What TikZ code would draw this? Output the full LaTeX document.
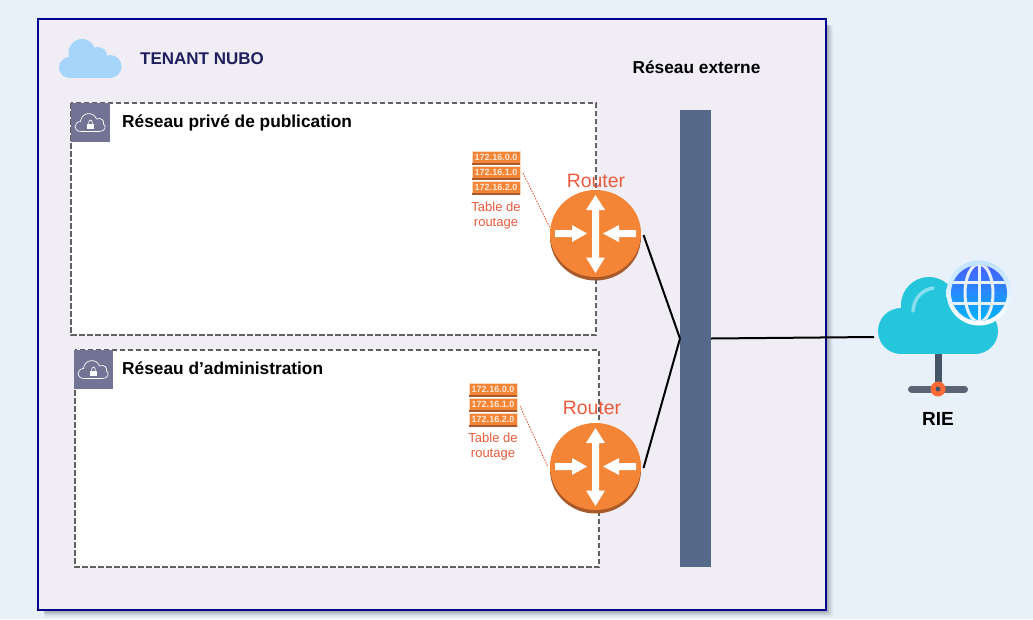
\documentclass[tikz,border=0pt]{standalone}
\usepackage{fontspec}
\setmainfont{Liberation Sans}
\usetikzlibrary{shapes.geometric,arrows.meta}
\definecolor{pagebg}{HTML}{E8F1FA}
\definecolor{tenantbg}{HTML}{F0EEF4}
\definecolor{tenantline}{HTML}{00008F}
\definecolor{tenanttxt}{HTML}{1F1F5E}
\definecolor{lockbg}{HTML}{737396}
\definecolor{dashc}{HTML}{606060}
\definecolor{busc}{HTML}{54698A}
\definecolor{rorange}{HTML}{F58536}
\definecolor{rdark}{HTML}{A85A2A}
\definecolor{rowedge}{HTML}{FBD9BE}
\definecolor{rowtxt}{HTML}{FDE8D8}
\definecolor{rtxt}{HTML}{EA5A3C}
\definecolor{cloudlight}{HTML}{A5D5FA}
\definecolor{cloudteal}{HTML}{25C6DC}
\definecolor{cloudshine}{HTML}{86DFEC}
\definecolor{stemc}{HTML}{47556B}
\definecolor{basec}{HTML}{5A6474}
\definecolor{hubc}{HTML}{FF6B35}
\definecolor{globetop}{HTML}{4A60FF}
\definecolor{globebot}{HTML}{00B6FF}
\definecolor{ringtop}{HTML}{BFE3FF}
\tikzset{
  x=1pt,y=-1pt,
  netbox/.style={draw=dashc,dash pattern=on 5.5pt off 2.5pt,line width=1.7pt,fill=white},
  locksq/.style={fill=lockbg,draw=none},
  title/.style={anchor=west,inner sep=0pt,font=\fontsize{17.3}{20}\selectfont\bfseries},
  routeur/.style={ellipse,fill=rorange,draw=none,minimum width=91pt,minimum height=87pt,inner sep=0pt,outer sep=2.5pt},
  routerlbl/.style={text=rtxt,inner sep=0pt,font=\fontsize{19.4}{22}\selectfont},
  tablelbl/.style={text=rtxt,inner sep=0pt,align=center,font=\fontsize{13}{15}\selectfont},
  rowlbl/.style={fill=rorange,text=rowtxt,inner sep=0pt,minimum width=47pt,minimum height=11pt,font=\fontsize{9}{9}\selectfont\bfseries},
  link/.style={draw=black,line width=2pt},
  dotlink/.style={draw=rtxt,line width=0.9pt,dash pattern=on 1.5pt off 1.3pt},
  arrowfill/.style={fill=white,draw=none},
  pics/routersym/.style={code={
    \fill[rdark] (0,3.5) ellipse [x radius=45.5,y radius=43.5];
    \node[routeur] (#1) at (0,0) {};
    \fill[arrowfill] (0,-38.5)--(9.5,-23.5)--(3.5,-23.5)--(3.5,24)--(9.5,24)--(0,39.5)--(-9.5,24)--(-3.5,24)--(-3.5,-23.5)--(-9.5,-23.5)--cycle;
    \fill[arrowfill] (-40.5,-3.5)--(-23.5,-3.5)--(-23.5,-8.5)--(-8.5,0)--(-23.5,8.5)--(-23.5,3.5)--(-40.5,3.5)--cycle;
    \fill[arrowfill] (40.5,-3.5)--(23.5,-3.5)--(23.5,-8.5)--(7.5,0)--(23.5,8.5)--(23.5,3.5)--(40.5,3.5)--cycle;
  }},
  pics/rowset/.style={code={
    \foreach \yy/\tt in {0/172.16.0.0,15/172.16.1.0,30/172.16.2.0}{
      \fill[rowedge] (-24.5,\yy-7) rectangle (24.5,\yy+7);
      \fill[rdark] (-24,\yy+5) rectangle (24,\yy+6.5);
      \node[rowlbl] at (0,\yy-.7) {\tt};
    }
  }},
  pics/lockcloud/.style={code={
    \draw[white,line width=.7pt] (-9,9.5) .. controls (-18,9.5) and (-17,0) .. (-10,-0.5)
      .. controls (-9,-10) and (3,-11) .. (6,-3)
      .. controls (11,-5) and (14,-1) .. (13,2)
      .. controls (16,4) and (15,9.5) .. (9,9.5) -- cycle;
    \fill[white] (-3.5,1.5) rectangle (3.5,7);
    \draw[white,line width=.7pt] (-2,1.5) .. controls (-2,-3) and (2,-3) .. (2,1.5);
  }},
}
\begin{document}
\begin{tikzpicture}
\fill[pagebg] (0,0) rectangle (1033,619);
\useasboundingbox (0,0) rectangle (1033,619);
% soft shadow of the tenant box
\foreach \d/\o in {7/.04,5.5/.06,4/.08,2.5/.11}{
  \fill[black,opacity=\o,rounded corners=2pt] (44,25) rectangle (826+\d,610+\d);
}
\draw[fill=tenantbg,draw=tenantline,line width=1.8pt] (38,19) rectangle (826,610);
% tenant cloud
\fill[cloudlight] (69.5,67.5) circle (10.5);
\fill[cloudlight] (82,52.5) circle (13.5);
\fill[cloudlight] (98,56) circle (9);
\fill[cloudlight] (110,66.5) circle (11.5);
\fill[cloudlight] (70,60) rectangle (110,78);
\node[title,text=tenanttxt,font=\fontsize{17}{20}\selectfont\bfseries] (tenant) at (140,59) {TENANT NUBO};
\node[title,anchor=center] (ext) at (696.5,67.5) {Réseau externe};
% private networks
\draw[netbox] (71,103) rectangle (596,335);
\fill[locksq] (71,103) rectangle (110,142);
\pic at (90.5,122) {lockcloud};
\node[title] (pub) at (122,122.5) {Réseau privé de publication};
\draw[netbox] (75,350) rectangle (599,567);
\fill[locksq] (74,350) rectangle (113,389);
\pic at (93.5,369) {lockcloud};
\node[title] (adm) at (122,368) {Réseau d’administration};
% bus
\node[fill=busc,draw=none,minimum width=31pt,minimum height=457pt,inner sep=0pt,outer sep=0pt] (bus) at (695.5,338.5) {};
% routers
\pic at (595.5,233.5) {routersym=r1};
\pic at (595.5,466.5) {routersym=r2};
\node[routerlbl] (r1l) at (596,180.5) {Router};
\node[routerlbl] (r2l) at (592,407.5) {Router};
% tables
\pic at (496,158) {rowset};
\pic at (493,390) {rowset};
\node[tablelbl] (t1) at (496,215.5) {Table de\\routage};
\node[tablelbl] (t2) at (493,447) {Table de\\routage};
\coordinate (t1a) at (523,173);
\coordinate (t2a) at (520,406);
\coordinate (r1d) at (550,228);
\coordinate (r2d) at (548,467);
\draw[dotlink] (t1a) -- (r1d);
\draw[dotlink] (t2a) -- (r2d);
% RIE cloud
\fill[cloudteal] (901,331) circle (23);
\fill[cloudteal] (929,305) circle (28);
\fill[cloudteal] (975,331) circle (23);
\fill[cloudteal] (901,320) rectangle (975,354);
\fill[cloudteal] (929,300) rectangle (965,330);
\draw[line width=3.5pt,line cap=round,draw=cloudshine] (913,311) .. controls (914,298) and (922,290) .. (933,288);
\coordinate (rie) at (874,337);
\draw[line width=7pt,draw=stemc] (938,354) -- (938,389);
\draw[line width=7pt,line cap=round,draw=basec] (911.5,389) -- (964.5,389);
\fill[hubc] (938,389) circle (7.5);
\fill[stemc] (938,389) circle (2.5);
% globe
\shade[top color=ringtop,bottom color=white] (979,293) circle (32.5);
\begin{scope}
\clip (979,293) circle (28);
\shade[top color=globetop,bottom color=globebot] (950,265) rectangle (1008,321);
\draw[pagebg,line width=3pt] (945,282) -- (1013,282) (945,303) -- (1013,303) (979,260) -- (979,325);
\draw[pagebg,line width=3pt] (979,293) ellipse [x radius=14,y radius=29];
\end{scope}
\node[inner sep=0pt,font=\fontsize{19}{22}\selectfont\bfseries] (rielbl) at (938,419) {RIE};
% connectors
\draw[link] ([yshift=-1.5pt]r1.east) -- (bus.west);
\draw[link] ([yshift=-1.5pt]r2.east) -- (bus.west);
\draw[link] (bus.east) -- (rie);
\end{tikzpicture}
\end{document}
